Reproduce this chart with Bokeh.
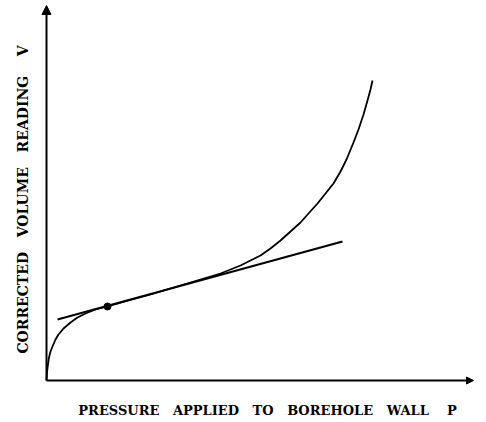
import math
from bokeh.plotting import figure
from bokeh.models import Arrow, NormalHead, Range1d
from bokeh.core.properties import value
from bokeh.embed import file_html
from bokeh.resources import INLINE

# Pressuremeter curve (arbitrary units)
pressure = [0, 0.5, 1.3, 2.5, 4, 6, 9, 12, 17, 24, 31, 39, 49, 61, 82, 104, 124, 144, 164, 174,
            184, 194, 204, 214, 224, 234, 244, 254, 262, 271, 279, 287, 294, 300, 307, 312, 317,
            321, 324, 326]
volume = [0, 8, 15, 23, 29, 34, 41, 46, 52, 58, 63, 67, 71, 74, 80, 86, 92, 98, 104, 107,
          111, 115, 120, 125, 132, 140, 149, 158, 167, 177, 187, 197, 209, 221, 238, 251, 266,
          280, 291, 300]

# Straight-line (pseudo-elastic) section
line_p = [11, 296]
line_v = [61, 139]

# Marked point
point_p = [61]
point_v = [74]

NB = "\u00a0"
x_label = (NB * 3).join(["PRESSURE", "APPLIED", "TO", "BOREHOLE", "WALL"]) + NB * 4 + "P"
y_label = (NB * 3).join(["CORRECTED", "VOLUME", "READING"]) + NB * 4 + "V"

p = figure(width=486, height=422, output_backend="svg", toolbar_location=None,
           x_range=Range1d(-46, 440), y_range=Range1d(-42, 380),
           min_border=0, outline_line_color=None)
p.axis.visible = False
p.grid.visible = False

# axes as arrows
p.add_layout(Arrow(end=NormalHead(size=9, fill_color="black", line_color="black"),
                   x_start=0, y_start=0, x_end=0, y_end=375, line_width=2, line_color="black"))
p.add_layout(Arrow(end=NormalHead(size=7, fill_color="black", line_color="black"),
                   x_start=0, y_start=0, x_end=427, y_end=0, line_width=2, line_color="black"))

p.line(pressure, volume, line_color="black", line_width=1.8, line_join="round")
p.line(line_p, line_v, line_color="black", line_width=2)
p.scatter(point_p, point_v, size=7, color="black")

p.text(x=[221], y=[-30], text=[x_label], text_font=value("DejaVu Serif"), text_font_style="bold",
       text_font_size="13px", text_align="center", text_baseline="middle", text_color="black")
p.text(x=[-24], y=[181], text=[y_label], angle=math.pi / 2, text_font=value("DejaVu Serif"),
       text_font_style="bold", text_font_size="14px", text_align="center", text_baseline="middle",
       text_color="black")

open("out.html", "w").write(file_html(p, INLINE))
